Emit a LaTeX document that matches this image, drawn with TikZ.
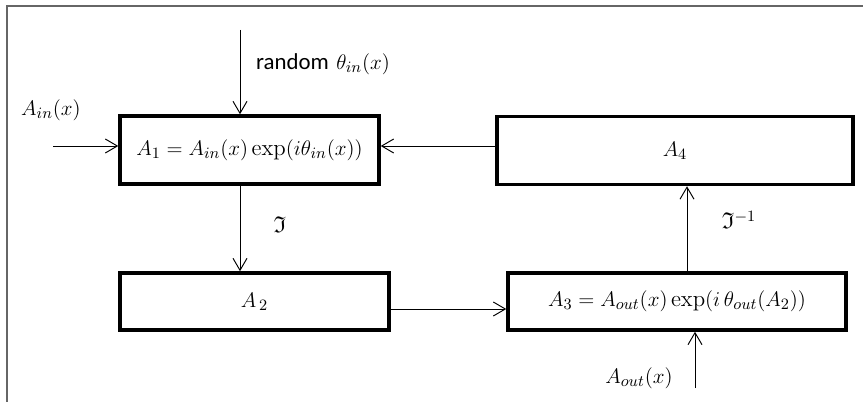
\documentclass[tikz,border=0pt]{standalone}
\usepackage{fontspec}
\usepackage{amssymb}
\usepackage{tikz}
\usetikzlibrary{arrows.meta}
\newfontfamily\labelfont{Carlito}

\begin{document}
\begin{tikzpicture}[x=0.02cm,y=-0.02cm,
    block/.style={draw, line width=2pt, minimum height=1.36cm, font=\fontsize{13}{15}\selectfont},
    flow/.style={-{Straight Barb[length=2.4mm,width=2.8mm]}, line width=0.55pt},
    lbl/.style={font=\fontsize{13}{15}\selectfont}]
        \useasboundingbox (0,0) rectangle (863,402);

        %Frame
        \draw[black!60, line width=0.9pt] (7,402) -- (7,6) -- (863,6);

        %Blocks
        \node[block, minimum width=5.18cm] (A1) at (249.5,150) {$A_1 = A_{in}(x)\exp\bigl(i\theta_{in}(x)\bigr)$};
        \node[block, minimum width=7.12cm] (A4) at (675,150.5) {$A_4$};
        \node[block, minimum width=5.38cm, minimum height=1.14cm] (A2) at (254.5,301.5) {$A_{\,2}$};
        \node[block, minimum width=6.76cm, minimum height=1.14cm] (A3) at (677,301.5) {$A_3 = A_{out}(x)\exp\bigl(i\,\theta_{out}(A_2)\bigr)$};

        %Free ends
        \coordinate (rnd) at (240,30);
        \coordinate (ain) at (53,146);
        \coordinate (mid) at (448,309);
        \coordinate (inv) at (687,230);
        \coordinate (aout) at (695,388);

        %Labels
        \node[lbl] (rndlbl) at (323,64) {{\labelfont random} $\theta_{in}(x)$};
        \node[lbl] (ainlbl) at (51,110) {$A_{in}(x)$};
        \node[lbl] (ft) at (280,225) {$\mathfrak{I}$};
        \node[lbl] (ift) at (739,220) {$\mathfrak{I}^{-1}$};
        \node[lbl] (aoutlbl) at (639,378) {$A_{out}(x)$};

        %Arrows
        \draw[flow] (rnd) -- (rnd |- A1.north);
        \draw[flow] (ain) -- (ain -| A1.west);
        \draw[flow] (A4.west |- ain) -- (A1.east |- ain);
        \draw[flow] (A1.south -| rnd) -- (A2.north -| rnd);
        \draw[flow] (A2.east |- mid) -- (A3.west |- mid);
        \draw[flow] (A3.north -| inv) -- (A4.south -| inv);
        \draw[flow] (aout) -- (aout |- A3.south);
    \end{tikzpicture}
\end{document}
